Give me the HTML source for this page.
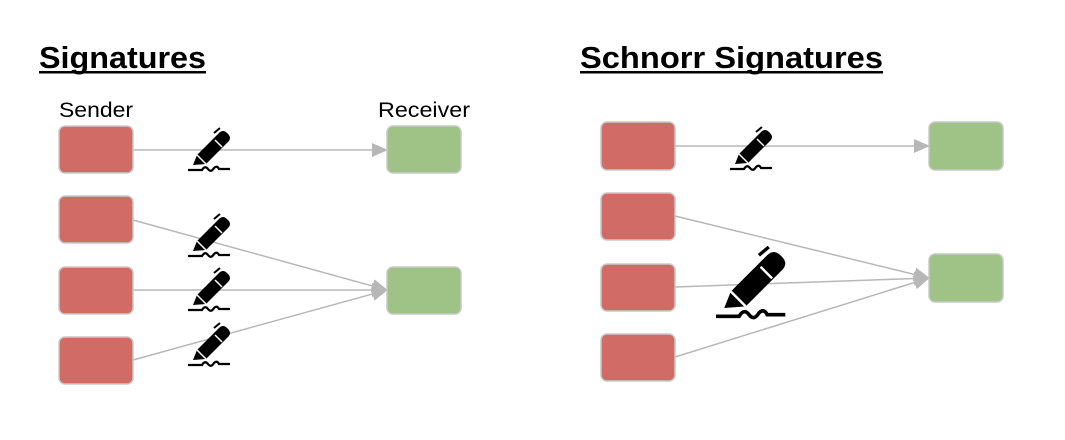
<!DOCTYPE html>
<html><head><meta charset="utf-8"><style>
html,body{margin:0;padding:0;background:#fff;}
body{width:1065px;height:435px;overflow:hidden;}
svg text{font-family:"Liberation Sans",Arial,sans-serif;}
</style></head><body>
<svg width="1065" height="435" viewBox="0 0 1065 435" xmlns="http://www.w3.org/2000/svg">
<defs>
<marker id="ar" markerWidth="16" markerHeight="14" refX="15" refY="7" orient="auto" markerUnits="userSpaceOnUse">
<path d="M0,0 L16,7 L0,14 Z" fill="#b7b7b7"/>
</marker>
<g id="pen">
<path d="M5,37 L9,27 L31,5 Q35,1 39,5 L40,6 Q44,10 40,14 L18,36 Z" fill="#000"/>
<path d="M9,27 L18,36" stroke="#fff" stroke-width="1.5"/>
<path d="M27,12 L34,19" stroke="#fff" stroke-width="1.5"/>
<path d="M26,5 L32,0" stroke="#000" stroke-width="2"/>
<path d="M0,42 H14 Q17,37 20,41 Q23,45 26,40 Q29,37 31,41 H42" stroke="#000" stroke-width="2.2" fill="none"/>
</g>
</defs>
<text x="39" y="68" font-size="31" font-weight="bold" textLength="167" lengthAdjust="spacingAndGlyphs">Signatures</text>
<rect x="39" y="71" width="167" height="2.5" fill="#000"/>
<text x="580" y="68" font-size="31" font-weight="bold" textLength="303" lengthAdjust="spacingAndGlyphs">Schnorr Signatures</text>
<rect x="580" y="71" width="303" height="2.5" fill="#000"/>
<text x="59" y="117" font-size="21" textLength="74" lengthAdjust="spacingAndGlyphs">Sender</text>
<text x="378" y="117" font-size="21" textLength="92" lengthAdjust="spacingAndGlyphs">Receiver</text>

<g stroke="#b7b7b7" stroke-width="1.5" fill="none">
<line x1="133" y1="150" x2="387" y2="150" marker-end="url(#ar)"/>
<line x1="133" y1="220" x2="387" y2="290" marker-end="url(#ar)"/>
<line x1="133" y1="290" x2="387" y2="290" marker-end="url(#ar)"/>
<line x1="133" y1="360" x2="387" y2="290" marker-end="url(#ar)"/>
<line x1="675" y1="146" x2="929" y2="146" marker-end="url(#ar)"/>
<line x1="675" y1="216" x2="929" y2="278" marker-end="url(#ar)"/>
<line x1="675" y1="287" x2="929" y2="278" marker-end="url(#ar)"/>
<line x1="675" y1="357" x2="929" y2="278" marker-end="url(#ar)"/>
</g>

<g fill="#d16b66" stroke="#c9c9c9" stroke-width="1.5">
<rect x="59" y="126" width="74" height="47" rx="6"/>
<rect x="59" y="196" width="74" height="47" rx="6"/>
<rect x="59" y="267" width="74" height="47" rx="6"/>
<rect x="59" y="337" width="74" height="47" rx="6"/>
<rect x="601" y="122" width="74" height="48" rx="6"/>
<rect x="601" y="193" width="74" height="47" rx="6"/>
<rect x="601" y="264" width="74" height="47" rx="6"/>
<rect x="601" y="334" width="74" height="47" rx="6"/>
</g>
<g fill="#9fc386" stroke="#c9c9c9" stroke-width="1.5">
<rect x="387" y="126" width="74" height="47" rx="6"/>
<rect x="387" y="267" width="74" height="47" rx="6"/>
<rect x="929" y="122" width="74" height="48" rx="6"/>
<rect x="929" y="254" width="74" height="48" rx="6"/>
</g>

<use href="#pen" transform="translate(188,128)"/>
<use href="#pen" transform="translate(188,214)"/>
<use href="#pen" transform="translate(188,268)"/>
<use href="#pen" transform="translate(188,323)"/>
<use href="#pen" transform="translate(730,127)"/>
<use href="#pen" transform="translate(716,247) scale(1.65)"/>
</svg>
</body></html>
